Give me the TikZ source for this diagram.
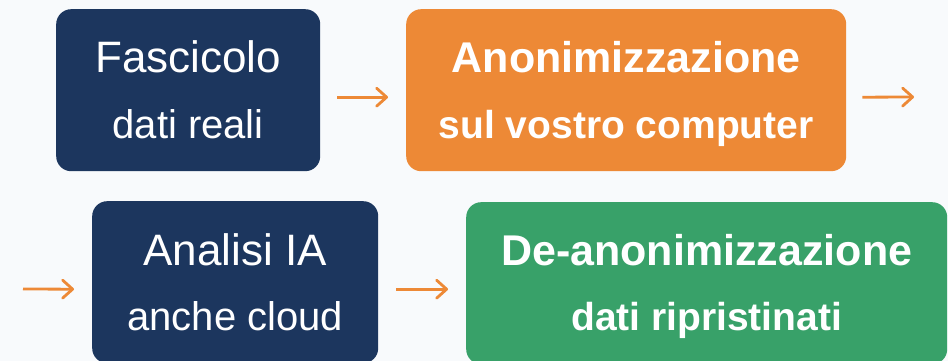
\documentclass[tikz,border=0pt]{standalone}
\usepackage{fontspec}
\setmainfont{Liberation Sans}
\usetikzlibrary{arrows.meta}
\definecolor{navy}{HTML}{1C365E}
\definecolor{orng}{HTML}{ED8936}
\definecolor{grn}{HTML}{38A169}
\definecolor{bg}{HTML}{F8FAFC}
\begin{document}
\begin{tikzpicture}[x=1pt,y=-1pt,
  box/.style={rectangle, rounded corners=15pt, inner sep=0pt, anchor=north west, minimum height=162pt},
  ttlreg/.style={text=white, anchor=base, inner sep=0pt, font=\fontsize{44}{50}\selectfont},
  subreg/.style={text=white, anchor=base, inner sep=0pt, font=\fontsize{40}{46}\selectfont},
  ttlbf/.style={text=white, anchor=base, inner sep=0pt, font=\fontsize{43}{50}\selectfont\bfseries},
  subbf/.style={text=white, anchor=base, inner sep=0pt, font=\fontsize{39}{46}\selectfont\bfseries},
  arr/.style={draw=orng, line width=2.8pt, -{Straight Barb[length=10pt,width=18pt,line cap=round,line join=round]}}
]
\fill[bg] (0,0) rectangle (948,361);
\useasboundingbox (0,0) rectangle (948,361);
\clip (0,0) rectangle (948,361);
% row 1
\node[box, fill=navy, minimum width=264pt] (b1) at (56,9) {};
\node[ttlreg] (t1) at ([yshift=-64pt]b1.north) {Fascicolo};
\node[subreg] (s1) at ([yshift=-129pt]b1.north) {dati reali};
\node[box, fill=orng, minimum width=440pt] (b2) at (406,9) {};
\node[ttlbf] (t2) at ([yshift=-64pt]b2.north) {Anonimizzazione};
\node[subbf] (s2) at ([yshift=-129pt]b2.north) {sul vostro computer};
% row 2
\node[box, fill=navy, minimum width=286pt] (b3) at (92,201) {};
\node[ttlreg] (t3) at ([yshift=-64pt]b3.north) {Analisi IA};
\node[subreg] (s3) at ([yshift=-129pt]b3.north) {anche cloud};
\node[box, fill=grn, minimum width=481pt] (b4) at (466,202) {};
\node[ttlbf] (t4) at ([yshift=-63pt]b4.north) {De-anonimizzazione};
\node[subbf] (s4) at ([yshift=-128pt]b4.north) {dati ripristinati};
% free ends
\coordinate (wrapR) at (914,97);
\coordinate (wrapL) at (23,289);
% connectors
\draw[arr] ([xshift=17pt,yshift=-7pt]b1.east) -- ([xshift=-18pt,yshift=-7pt]b2.west);
\draw[arr] ([xshift=16pt,yshift=-7pt]b2.east) -- (wrapR);
\draw[arr] (wrapL) -- ([xshift=-18pt,yshift=-7pt]b3.west);
\draw[arr] ([xshift=18pt,yshift=-7pt]b3.east) -- ([xshift=-18pt,yshift=-6pt]b4.west);
\end{tikzpicture}
\end{document}
